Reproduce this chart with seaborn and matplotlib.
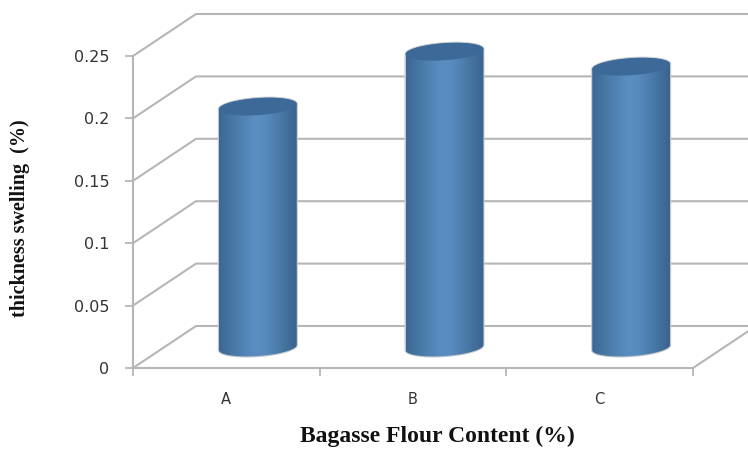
import numpy as np
import pandas as pd
import matplotlib
matplotlib.use("Agg")
import matplotlib.pyplot as plt
from matplotlib.colors import LinearSegmentedColormap
from matplotlib.patches import Polygon
from matplotlib.transforms import IdentityTransform
import seaborn as sns

categories = ["A", "B", "C"]
values = [0.193, 0.237, 0.225]
y_ticks = [0, 0.05, 0.1, 0.15, 0.2, 0.25]
y_tick_labels = ["0", "0.05", "0.1", "0.15", "0.2", "0.25"]

W, H = 748, 449
GRID = "#b4b6b8"

sns.set_theme(style="white")
plt.rcParams["font.family"] = ["DejaVu Sans"]

fig = plt.figure(figsize=(W / 100, H / 100), dpi=100)
fig.patch.set_facecolor("white")

# front plane of the fake 3d box
ax = fig.add_axes([133 / W, (H - 368) / H, 560 / W, 312 / H])
ax.set_xlim(-0.5, 2.5)
ax.set_ylim(0, 0.25)
ax.patch.set_alpha(0)
sns.despine(ax=ax, right=True, top=True)
for s in ["left", "bottom"]:
    ax.spines[s].set_color(GRID)
    ax.spines[s].set_linewidth(1.5)

ax.set_yticks(y_ticks, y_tick_labels)
ax.set_xticks(range(len(categories)), categories)
ax.set_xticks([-0.5, 0.5, 1.5, 2.5], minor=True)
ax.tick_params(axis="y", length=6, width=1.3, color=GRID, pad=11, labelsize=11.5, labelcolor="#333333", left=True)
ax.tick_params(axis="x", which="major", length=0, pad=17, labelsize=10.5, labelcolor="#333333")
ax.tick_params(axis="x", which="minor", length=6, width=1.3, color=GRID, bottom=True)

# wall and floor lines, drawn in pixels from the tick positions
pix = IdentityTransform()
for t in y_ticks:
    x0, y0 = ax.transData.transform((-0.5, t))
    ax.plot([x0, x0 + 63, W + 5], [y0, y0 + 42, y0 + 42], color=GRID, lw=1.5, transform=pix, clip_on=False, zorder=1)
x1, y1 = ax.transData.transform((2.5, 0))
ax.plot([x1, x1 + 63], [y1, y1 + 42], color=GRID, lw=1.5, transform=pix, clip_on=False, zorder=1)

# bars sit half way into the box
ax2 = fig.add_axes([(133 + 31.5) / W, (H - 368 + 20.5) / H, 560 / W, 312 / H])
df = pd.DataFrame({"group": categories, "value": values})
sns.barplot(data=df, x="group", y="value", color="#4a7aae", width=78 / 187, saturation=1, ax=ax2)
ax2.set_xlim(-0.5, 2.5)
ax2.set_ylim(0, 0.25)
ax2.axis("off")

cmap = LinearSegmentedColormap.from_list("cyl", [
    (0, "#3c6797"), (0.12, "#44739f"), (0.45, "#5a8ec2"), (0.6, "#588abd"),
    (0.85, "#44739f"), (1, "#3a6391")])
grad = np.linspace(0, 1, 200).reshape(1, -1)
tilt = np.deg2rad(4)
t = np.linspace(0, 2 * np.pi, 181)


def ell(cx, cy, rx=39, ry=8.5):
    ex, ey = rx * np.cos(t), ry * np.sin(t)
    return np.c_[cx + ex * np.cos(tilt) - ey * np.sin(tilt), cy + ex * np.sin(tilt) + ey * np.cos(tilt)]


for bar in ax2.patches:
    bx, bw, bh = bar.get_x(), bar.get_width(), bar.get_height()
    cx, cy0 = ax2.transData.transform((bx + bw / 2, 0))
    _, cy1 = ax2.transData.transform((bx + bw / 2, bh))
    low = ell(cx, cy0)
    top = ell(cx, cy1)
    # silhouette: lower half of the base ellipse plus the top ellipse
    body = np.vstack([low[90:181], top[0:91]])
    halo = Polygon(body, closed=True, transform=pix, fc="none", ec="#c4c8cc", lw=1.6, zorder=2, clip_on=False)
    ax2.add_patch(halo)
    halo.set_clip_on(False)
    img = ax2.imshow(grad, extent=(bx, bx + bw, -0.03, bh + 0.01), aspect="auto", cmap=cmap, vmin=0, vmax=1, zorder=3)
    img.set_clip_box(fig.bbox)
    img.set_clip_path(Polygon(body, closed=True, transform=pix))
    lid = Polygon(top, closed=True, transform=pix, fc="#3d6999", ec="none", zorder=4)
    ax2.add_patch(lid)
    lid.set_clip_on(False)
    bar.set_alpha(0)
ax2.set_xlim(-0.5, 2.5)
ax2.set_ylim(0, 0.25)

fig.text(20 / W, 1 - 218 / H, "thickness swelling  (%)", rotation=90, ha="center", va="center",
         family="Liberation Serif", weight="bold", size=14.5, color="#111111")
fig.text(437 / W, 2 / H, "Bagasse Flour Content (%)", ha="center", va="bottom",
         family="Liberation Serif", weight="bold", size=17, color="#111111")

fig.savefig("out.png", dpi=100)
